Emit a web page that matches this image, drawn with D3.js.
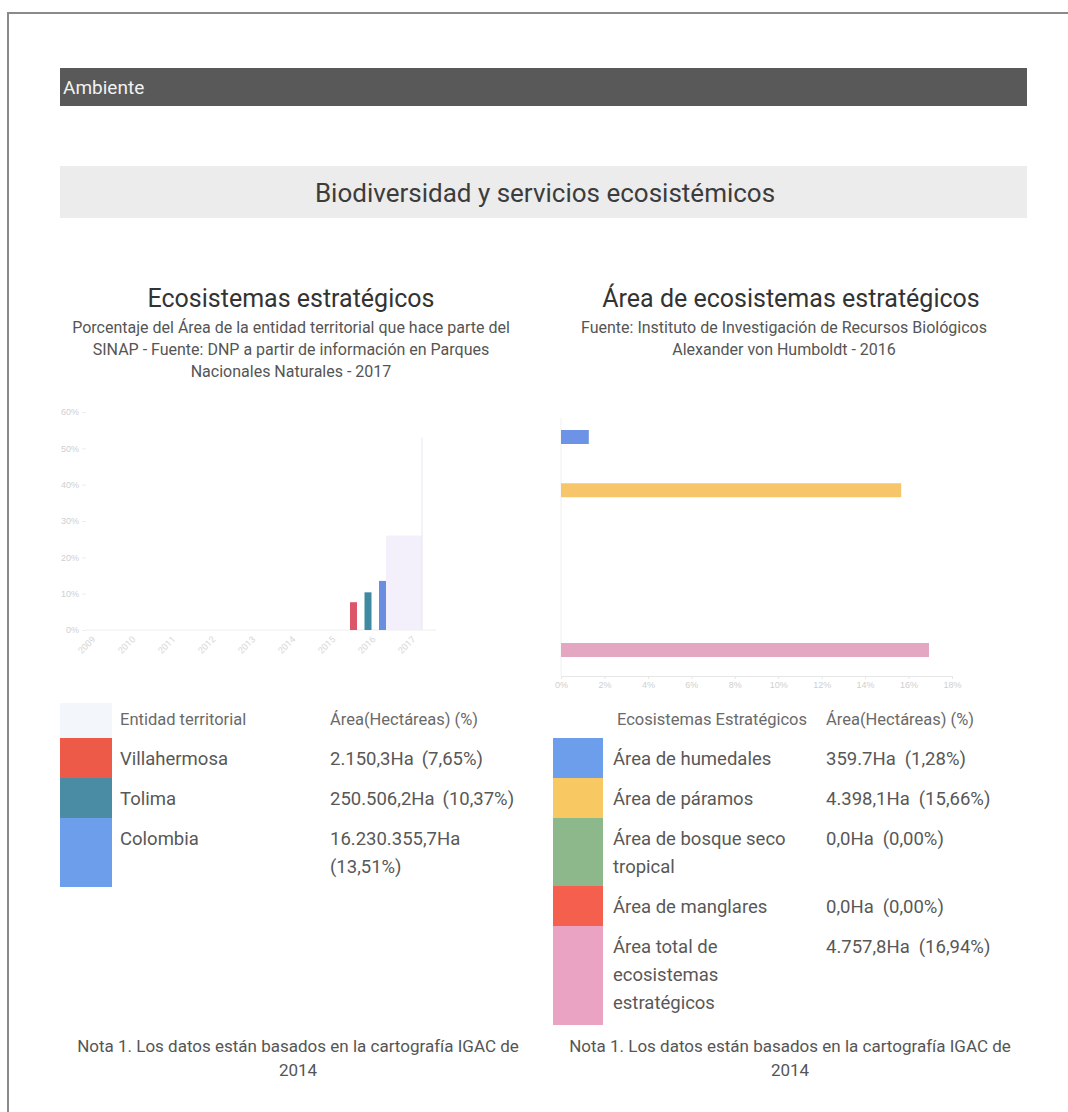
<!DOCTYPE html>
<html><head><meta charset="utf-8">
<script src="https://cdn.jsdelivr.net/npm/d3@7"></script>
<style>
body{margin:0;background:#fff;}
svg{display:block;font-family:Roboto,"Noto Sans",sans-serif;}
</style>
</head><body>
<svg id="c" width="1068" height="1112"></svg>
<script>
// ---------- data ----------
const entities = ["Villahermosa", "Tolima", "Colombia"];
const entityHa = [2150.3, 250506.2, 16230355.7];
const entityPct = [7.65, 10.37, 13.51];
const entityColors = ["#ee5a48", "#4a8ca4", "#6d9eeb"];
const entityBarColors = ["#dc5568", "#3e8aa2", "#6a8de0"];
const yTickValues = [0, 10, 20, 30, 40, 50, 60];
const xCategoryLabels = ["2009", "2010", "2011", "2012", "2013", "2014", "2015", "2016", "2017"];
const groupCategory = "2016";
const ghostValues = [26, 53];

const ecosystems = ["Área de humedales", "Área de páramos", "Área de bosque seco tropical", "Área de manglares", "Área total de ecosistemas estratégicos"];
const ecoHaLabels = ["359.7Ha", "4.398,1Ha", "0,0Ha", "0,0Ha", "4.757,8Ha"];
const ecoPct = [1.28, 15.66, 0.00, 0.00, 16.94];
const ecoColors = ["#6d9eeb", "#f8c862", "#8db88b", "#f4604d", "#eaa3c3"];
const ecoBarColors = ["#6d93e6", "#f7c66a", "#8db88b", "#f4604d", "#e3a7c1"];
const pctTickValues = [0, 2, 4, 6, 8, 10, 12, 14, 16, 18];

// ---------- helpers ----------
const es = d3.formatLocale({decimal: ",", thousands: ".", grouping: [3], currency: ["", ""]});
const fHa = es.format(",.1f");
const fPct = es.format(".2f");
const svg = d3.select("#c");

function centeredLines(g, lines, cx, y0, dy, size, color, weight) {
  lines.forEach((t, i) => {
    g.append("text").attr("x", cx).attr("y", y0 + i * dy)
      .attr("text-anchor", "middle").attr("dominant-baseline", "central")
      .attr("font-size", size).attr("fill", color).attr("font-weight", weight || 400).text(t);
  });
}
function wrapWords(text, maxW, size) {
  const probe = svg.append("text").attr("font-size", size).attr("visibility", "hidden");
  const words = text.split(" ");
  const lines = [];
  let cur = "";
  words.forEach(w => {
    const test = cur ? cur + " " + w : w;
    probe.text(test);
    if (probe.node().getComputedTextLength() > maxW && cur) { lines.push(cur); cur = w; }
    else cur = test;
  });
  if (cur) lines.push(cur);
  probe.remove();
  return lines;
}
function measure(text, size) {
  const probe = svg.append("text").attr("font-size", size).attr("visibility", "hidden").text(text);
  const w = probe.node().getComputedTextLength();
  probe.remove();
  return w;
}

// ---------- frame ----------
svg.append("path").attr("d", "M8,1112 V13 H1068").attr("fill", "none").attr("stroke", "#8a8a8a").attr("stroke-width", 2);

// header bar
svg.append("rect").attr("x", 60).attr("y", 68).attr("width", 967).attr("height", 38).attr("fill", "#595959");
svg.append("text").attr("x", 63).attr("y", 87).attr("dominant-baseline", "central")
  .attr("font-size", 19).attr("fill", "#f2f2f2").text("Ambiente");

// section band
svg.append("rect").attr("x", 60).attr("y", 166).attr("width", 967).attr("height", 52).attr("fill", "#ececec");
svg.append("text").attr("x", 545).attr("y", 193).attr("text-anchor", "middle").attr("dominant-baseline", "central")
  .attr("font-size", 26).attr("fill", "#3c3c3c").text("Biodiversidad y servicios ecosistémicos");

// ---------- left panel ----------
const L = svg.append("g");
centeredLines(L, ["Ecosistemas estratégicos"], 291, 298, 0, 25, "#333");
centeredLines(L, [
  "Porcentaje del Área de la entidad territorial que hace parte del",
  "SINAP - Fuente: DNP a partir de información en Parques",
  "Nacionales Naturales - 2017"], 291, 327, 22, 16, "#555");

const yL = d3.scaleLinear().domain([0, 60]).range([630, 412]);
const xL = d3.scaleBand().domain(xCategoryLabels).range([68, 428]);
const xInner = d3.scalePoint().domain(entities).range([-14.5, 14.5]);

const yAxisL = L.append("g").attr("transform", "translate(86,0)")
  .call(d3.axisLeft(yL).tickValues(yTickValues).tickSize(4).tickFormat(d => d + "%"));
yAxisL.select(".domain").remove();
yAxisL.selectAll("line").attr("stroke", "#eeeeee");
yAxisL.selectAll("text").attr("fill", "#cfcfcf").attr("font-size", 9);

L.append("line").attr("x1", 86).attr("x2", 436).attr("y1", yL(0)).attr("y2", yL(0)).attr("stroke", "#eeeeee");

// x labels rotated
xCategoryLabels.forEach(c => {
  const cx = xL(c) + xL.bandwidth() / 2 + 8;
  L.append("text").attr("transform", `translate(${cx},${yL(0) + 10}) rotate(-45)`)
    .attr("text-anchor", "end").attr("font-size", 9).attr("fill", "#d6d6d6").text(c);
});

// ghost band (faint artefact behind the chart)
const gx = xL(xCategoryLabels[8]);
L.append("rect").attr("x", gx - 2).attr("y", yL(ghostValues[0])).attr("width", xL.bandwidth() - 4)
  .attr("height", yL(0) - yL(ghostValues[0])).attr("fill", "#f3f0fb");
L.append("line").attr("x1", gx + xL.bandwidth() - 6).attr("x2", gx + xL.bandwidth() - 6)
  .attr("y1", yL(ghostValues[1])).attr("y2", yL(0)).attr("stroke", "#ebe8f5").attr("stroke-width", 1.2);

// bars
const gc = xL(groupCategory) + xL.bandwidth() / 2;
L.selectAll("rect.bar").data(entities).join("rect").attr("class", "bar")
  .attr("x", d => gc + xInner(d) - 3.5).attr("width", 7)
  .attr("y", (d, i) => yL(entityPct[i])).attr("height", (d, i) => yL(0) - yL(entityPct[i]))
  .attr("fill", (d, i) => entityBarColors[i]);

// left legend
const legFont = 18.5;
const headFont = 16.5;
const lineH = 28;
const txtColor = "#585858";
L.append("rect").attr("x", 60).attr("y", 703).attr("width", 52).attr("height", 35).attr("fill", "#f3f6fb");
L.append("text").attr("x", 120).attr("y", 719).attr("dominant-baseline", "central").attr("font-size", headFont).attr("fill", "#6a6a6a").text("Entidad territorial");
L.append("text").attr("x", 330).attr("y", 719).attr("dominant-baseline", "central").attr("font-size", headFont).attr("fill", "#6a6a6a").text("Área(Hectáreas) (%)");
let rowTop = 738;
entities.forEach((e, i) => {
  const labLines = wrapWords(e, 195, legFont);
  const haTxt = fHa(entityHa[i]) + "Ha";
  const pctTxt = "(" + fPct(entityPct[i]) + "%)";
  const twoVal = measure(haTxt, legFont) + 8 + measure(pctTxt, legFont) > 200;
  const n = Math.max(labLines.length, twoVal ? 2 : 1);
  const h = 40 + (n - 1) * lineH + (i === entities.length - 1 && n > 1 ? 1 : 0);
  L.append("rect").attr("x", 60).attr("y", rowTop).attr("width", 52).attr("height", h).attr("fill", entityColors[i]);
  labLines.forEach((t, k) => L.append("text").attr("x", 120).attr("y", rowTop + 21 + k * lineH)
    .attr("dominant-baseline", "central").attr("font-size", legFont).attr("fill", txtColor).text(t));
  const vy = rowTop + 21;
  L.append("text").attr("x", 330).attr("y", vy).attr("dominant-baseline", "central").attr("font-size", legFont).attr("fill", txtColor).text(haTxt);
  if (twoVal) {
    L.append("text").attr("x", 330).attr("y", vy + lineH).attr("dominant-baseline", "central").attr("font-size", legFont).attr("fill", txtColor).text(pctTxt);
  } else {
    L.append("text").attr("x", 330 + measure(haTxt, legFont) + 8).attr("y", vy).attr("dominant-baseline", "central").attr("font-size", legFont).attr("fill", txtColor).text(pctTxt);
  }
  rowTop += h;
});
centeredLines(L, ["Nota 1. Los datos están basados en la cartografía IGAC de", "2014"], 298, 1046, 24, 17, "#555");

// ---------- right panel ----------
const R = svg.append("g");
centeredLines(R, ["Área de ecosistemas estratégicos"], 791, 298, 0, 25, "#333");
centeredLines(R, [
  "Fuente: Instituto de Investigación de Recursos Biológicos",
  "Alexander von Humboldt - 2016"], 784, 327, 22, 16, "#555");

const xR = d3.scaleLinear().domain([0, 18]).range([561, 952]);
const yR = d3.scalePoint().domain(ecosystems).range([437, 650]);

R.append("line").attr("x1", 561).attr("x2", 561).attr("y1", 418).attr("y2", 676).attr("stroke", "#f0f0f0");
const xAxisR = R.append("g").attr("transform", "translate(0,676)")
  .call(d3.axisBottom(xR).tickValues(pctTickValues).tickSize(3).tickFormat(d => d + "%"));
xAxisR.select(".domain").attr("stroke", "#e6e6e6");
xAxisR.selectAll("line").attr("stroke", "#e6e6e6");
xAxisR.selectAll("text").attr("fill", "#cfcfcf").attr("font-size", 9);

R.selectAll("rect.bar").data(ecosystems).join("rect").attr("class", "bar")
  .attr("x", xR(0)).attr("y", d => yR(d) - 7).attr("height", 14)
  .attr("width", (d, i) => xR(ecoPct[i]) - xR(0))
  .attr("fill", (d, i) => ecoBarColors[i]);

// right legend
R.append("text").attr("x", 617).attr("y", 719).attr("dominant-baseline", "central").attr("font-size", headFont).attr("fill", "#6a6a6a").text("Ecosistemas Estratégicos");
R.append("text").attr("x", 826).attr("y", 719).attr("dominant-baseline", "central").attr("font-size", headFont).attr("fill", "#6a6a6a").text("Área(Hectáreas) (%)");
rowTop = 738;
ecosystems.forEach((e, i) => {
  const labLines = wrapWords(e, 190, legFont);
  const n = labLines.length;
  const h = 40 + (n - 1) * lineH + (i === ecosystems.length - 1 ? 3 : 0);
  R.append("rect").attr("x", 553).attr("y", rowTop).attr("width", 50).attr("height", h).attr("fill", ecoColors[i]);
  labLines.forEach((t, k) => R.append("text").attr("x", 613).attr("y", rowTop + 21 + k * lineH)
    .attr("dominant-baseline", "central").attr("font-size", legFont).attr("fill", txtColor).text(t));
  const haTxt = ecoHaLabels[i];
  const pctTxt = "(" + fPct(ecoPct[i]) + "%)";
  R.append("text").attr("x", 826).attr("y", rowTop + 21).attr("dominant-baseline", "central").attr("font-size", legFont).attr("fill", txtColor).text(haTxt);
  R.append("text").attr("x", 826 + measure(haTxt, legFont) + 9).attr("y", rowTop + 21).attr("dominant-baseline", "central").attr("font-size", legFont).attr("fill", txtColor).text(pctTxt);
  rowTop += h;
});
centeredLines(R, ["Nota 1. Los datos están basados en la cartografía IGAC de", "2014"], 790, 1046, 24, 17, "#555");
</script>
</body></html>
